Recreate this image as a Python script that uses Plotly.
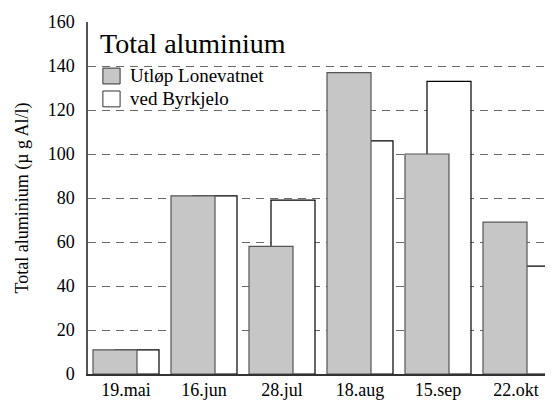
import plotly.graph_objects as go

dates = ["19.mai", "16.jun", "28.jul", "18.aug", "15.sep", "22.okt"]
lonevatnet = [11, 81, 58, 137, 100, 69]
byrkjelo = [11, 81, 79, 106, 133, 49]
y_ticks = [0, 20, 40, 60, 80, 100, 120, 140, 160]
series_names = ["Utløp Lonevatnet", "ved Byrkjelo"]
series_fill = ["#c6c6c6", "white"]

font = "Liberation Serif"
bar_w = 44 / 78

fig = go.Figure()
# white series sits behind the grey one, shifted half a bar to the right
fig.add_trace(go.Bar(
    name=series_names[1],
    x=list(range(len(dates))),
    y=byrkjelo,
    width=bar_w,
    offset=-11 / 78,
    marker=dict(color=series_fill[1], line=dict(color="black", width=1.2)),
))
fig.add_trace(go.Bar(
    name=series_names[0],
    x=list(range(len(dates))),
    y=lonevatnet,
    width=bar_w,
    offset=-33 / 78,
    marker=dict(color=series_fill[0], line=dict(color="#555555", width=1.2)),
))

fig.add_annotation(
    text="Total aluminium", x=0.022, y=0.99, xref="paper", yref="paper",
    xanchor="left", yanchor="top", showarrow=False,
    font=dict(family=font, size=28, color="black"),
)

# hand-drawn legend: boxes + labels
for i, (name, fill) in enumerate(zip(series_names, series_fill)):
    top = 0.869 - i * 0.065
    fig.add_shape(
        type="rect", xref="paper", yref="paper",
        x0=0.032, x1=0.069, y0=top - 0.045, y1=top,
        fillcolor=fill, line=dict(color="#333333", width=1),
    )
    fig.add_annotation(
        text=name, x=0.086, y=top - 0.022, xref="paper", yref="paper",
        xanchor="left", yanchor="middle", showarrow=False,
        font=dict(family=font, size=19, color="black"),
    )

# page adds an 8px body margin, so the figure is drawn 8px smaller
fig.update_layout(
    width=545,
    height=393,
    barmode="overlay",
    plot_bgcolor="white",
    paper_bgcolor="white",
    font=dict(family=font, size=18, color="black"),
    margin=dict(l=80, r=0, t=14, b=27),
    showlegend=False,
    xaxis=dict(
        tickmode="array",
        tickvals=list(range(len(dates))),
        ticktext=dates,
        range=[-38 / 78, -38 / 78 + 465 / 78],
        showgrid=False,
        showline=True,
        linecolor="#333333",
        linewidth=2,
        ticks="",
        zeroline=False,
        automargin=False,
        ticklabelstandoff=-2,
        tickfont=dict(family=font, size=18),
    ),
    yaxis=dict(
        title=dict(text="Total aluminium (µ g Al/l)", font=dict(family=font, size=18), standoff=14),
        range=[0, 160],
        tickmode="array",
        tickvals=y_ticks,
        showgrid=True,
        gridcolor="#6a6a6a",
        griddash="8px,6px",
        gridwidth=1.2,
        showline=True,
        linecolor="#555555",
        linewidth=1.5,
        ticks="",
        zeroline=False,
        automargin=False,
        ticklabelstandoff=8,
        tickfont=dict(family=font, size=18),
    ),
)

fig.write_html("out.html")
